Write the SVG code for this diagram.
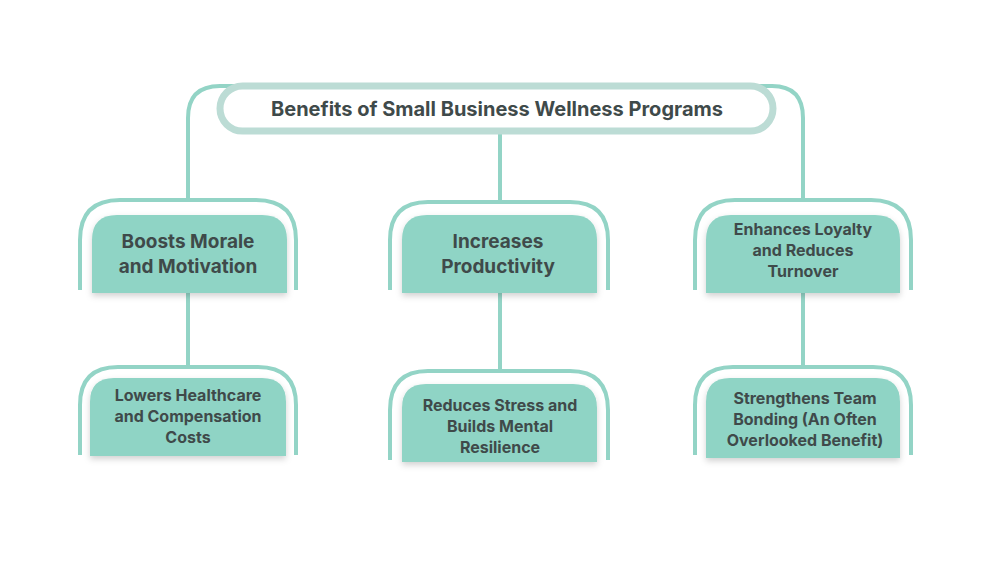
<svg xmlns="http://www.w3.org/2000/svg" width="1000" height="568" viewBox="0 0 1000 568">
<style>
.ln{fill:none;stroke:#93d4c6;stroke-width:4}
.bx{fill:#8fd4c5;filter:url(#sh)}
.t{font-family:Inter,"Open Sans",sans-serif;font-weight:700;fill:#3f4a4a;text-anchor:middle}
.a{font-size:19px}.b{font-size:16px}
</style>
<defs><filter id="sh" x="-10%" y="-10%" width="120%" height="130%"><feDropShadow dx="0" dy="3" stdDeviation="3" flood-color="#000" flood-opacity="0.18"/></filter></defs>
<rect width="1000" height="568" fill="#fff"/>
<g id="connectors">
<path class="ln" d="M188 198 V118 Q188 86 220 86 H772 Q803 86 803 118 V198"/>
<path class="ln" d="M500 133 V200"/>
<path class="ln" d="M188 293 V366 M500 293 V370 M803 293 V366"/>
</g>
<g id="title">
<rect x="220" y="86" width="553" height="45" rx="22.5" fill="#fff" stroke="#bcdcd5" stroke-width="7"/>
<text class="t" x="497" y="116" font-size="20">Benefits of Small Business Wellness Programs</text>
</g>
<g id="n1"><path class="ln" d="M80 290 V240 Q80 200 120 200 H256 Q296 200 296 240 V290"/>
<path class="bx" d="M92 293 V240 Q92 215 117 215 H262 Q287 215 287 240 V293 Z"/>
<text class="t a" x="188" y="248">Boosts Morale</text><text class="t a" x="188" y="273">and Motivation</text></g>
<g id="n2"><path class="ln" d="M390 290 V240 Q390 202 428 202 H570 Q608 202 608 240 V290"/>
<path class="bx" d="M402 293 V240 Q402 215 427 215 H572 Q597 215 597 240 V293 Z"/>
<text class="t a" x="498" y="248">Increases</text><text class="t a" x="498" y="273">Productivity</text></g>
<g id="n3"><path class="ln" d="M695 290 V240 Q695 200 735 200 H871 Q911 200 911 240 V290"/>
<path class="bx" d="M706 293 V240 Q706 215 731 215 H875 Q900 215 900 240 V293 Z"/>
<text class="t b" x="803" y="235">Enhances Loyalty</text><text class="t b" x="803" y="256">and Reduces</text><text class="t b" x="803" y="277">Turnover</text></g>
<g id="n4"><path class="ln" d="M80 455 V405 Q80 367 118 367 H258 Q296 367 296 405 V455"/>
<path class="bx" d="M90 456 V402 Q90 378 114 378 H262 Q286 378 286 402 V456 Z"/>
<text class="t b" x="188" y="401">Lowers Healthcare</text><text class="t b" x="188" y="422">and Compensation</text><text class="t b" x="188" y="443">Costs</text></g>
<g id="n5"><path class="ln" d="M390 460 V410 Q390 371 428 371 H570 Q608 371 608 410 V460"/>
<path class="bx" d="M402 462 V408 Q402 384 426 384 H573 Q597 384 597 408 V462 Z"/>
<text class="t b" x="500" y="411">Reduces Stress and</text><text class="t b" x="500" y="432">Builds Mental</text><text class="t b" x="500" y="453">Resilience</text></g>
<g id="n6"><path class="ln" d="M695 455 V405 Q695 367 733 367 H873 Q911 367 911 405 V455"/>
<path class="bx" d="M706 458 V402 Q706 378 730 378 H876 Q900 378 900 402 V458 Z"/>
<text class="t b" x="805" y="404">Strengthens Team</text><text class="t b" x="805" y="425">Bonding (An Often</text><text class="t b" x="805" y="446">Overlooked Benefit)</text></g>
</svg>
